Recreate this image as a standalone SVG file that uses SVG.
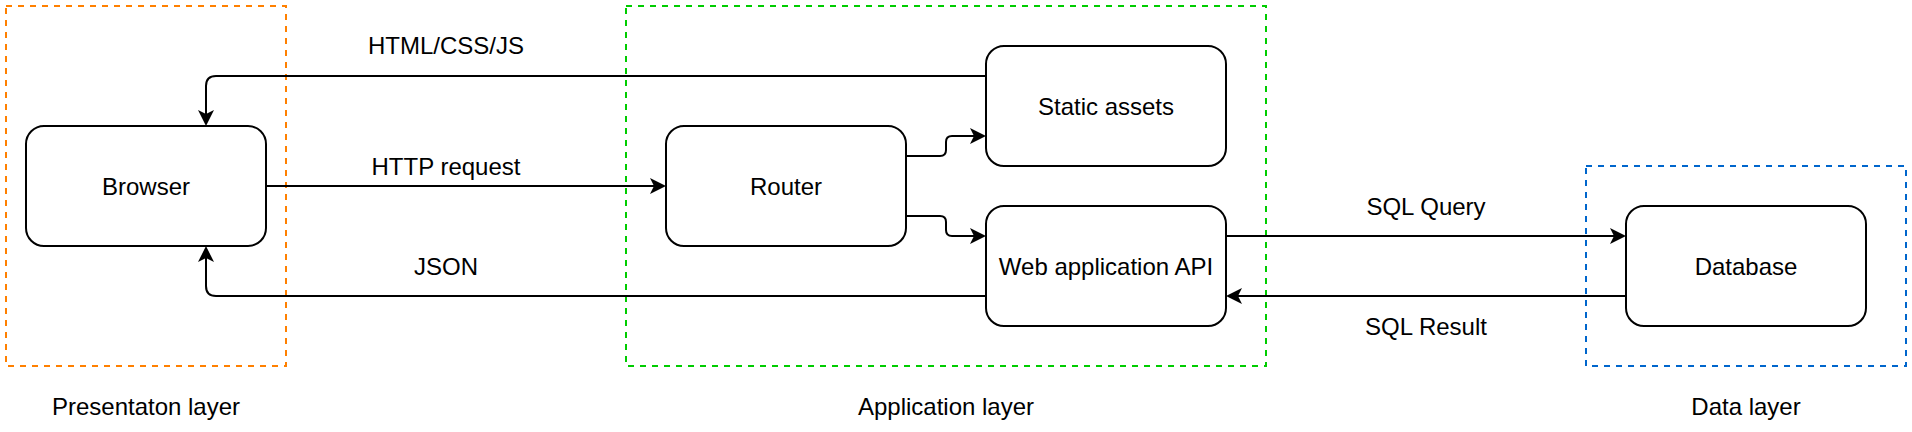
<svg xmlns="http://www.w3.org/2000/svg" width="1912" height="432" viewBox="0 0 1912 432">
<style>
.node{fill:#ffffff;stroke:#000000;stroke-width:2}
.layer{fill:none;stroke-width:2;stroke-dasharray:6 6}
.edge{fill:none;stroke:#000000;stroke-width:2}
text{font-family:"Liberation Sans",Arial,Helvetica,sans-serif;font-size:24px;fill:#000000;text-anchor:middle}
</style>
<defs>
<marker id="arr" markerUnits="userSpaceOnUse" viewBox="-17 -9 18 18" markerWidth="18" markerHeight="18" refX="-12" refY="0" orient="auto">
<path d="M0,0 L-16,-8 L-12,0 L-16,8 Z" fill="#000000"/>
</marker>
</defs>
<g id="layers">
<rect class="layer" x="6" y="6" width="280" height="360" stroke="#FF8000"/>
<rect class="layer" x="626" y="6" width="640" height="360" stroke="#00CC00"/>
<rect class="layer" x="1586" y="166" width="320" height="200" stroke="#0066CC"/>
<text x="146" y="415">Presentaton layer</text>
<text x="946" y="415">Application layer</text>
<text x="1746" y="415">Data layer</text>
</g>
<g id="connectors">
<path class="edge" d="M986,76 H216 Q206,76 206,86 V114" marker-end="url(#arr)"/>
<path class="edge" d="M266,186 H654" marker-end="url(#arr)"/>
<path class="edge" d="M986,296 H216 Q206,296 206,286 V258" marker-end="url(#arr)"/>
<path class="edge" d="M906,156 H940 Q946,156 946,150 V142 Q946,136 952,136 H974" marker-end="url(#arr)"/>
<path class="edge" d="M906,216 H940 Q946,216 946,222 V230 Q946,236 952,236 H974" marker-end="url(#arr)"/>
<path class="edge" d="M1226,236 H1614" marker-end="url(#arr)"/>
<path class="edge" d="M1626,296 H1238" marker-end="url(#arr)"/>
<text x="446" y="54">HTML/CSS/JS</text>
<text x="446" y="175">HTTP request</text>
<text x="446" y="275">JSON</text>
<text x="1426" y="215">SQL Query</text>
<text x="1426" y="335">SQL Result</text>
</g>
<g id="browser">
<rect class="node" x="26" y="126" width="240" height="120" rx="18" ry="18"/>
<text x="146" y="195">Browser</text>
</g>
<g id="router">
<rect class="node" x="666" y="126" width="240" height="120" rx="18" ry="18"/>
<text x="786" y="195">Router</text>
</g>
<g id="static-assets">
<rect class="node" x="986" y="46" width="240" height="120" rx="18" ry="18"/>
<text x="1106" y="115">Static assets</text>
</g>
<g id="web-api">
<rect class="node" x="986" y="206" width="240" height="120" rx="18" ry="18"/>
<text x="1106" y="275">Web application API</text>
</g>
<g id="database">
<rect class="node" x="1626" y="206" width="240" height="120" rx="18" ry="18"/>
<text x="1746" y="275">Database</text>
</g>
</svg>
